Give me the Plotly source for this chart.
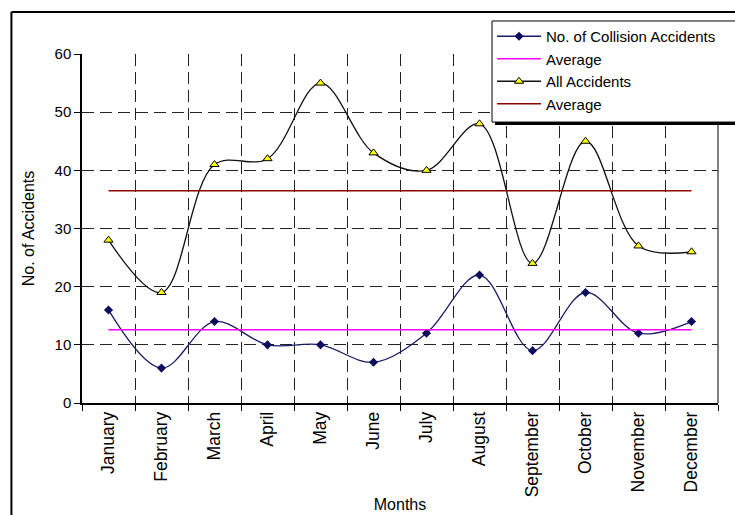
import plotly.graph_objects as go

months = ["January", "February", "March", "April", "May", "June", "July",
          "August", "September", "October", "November", "December"]
collision = [16, 6, 14, 10, 10, 7, 12, 22, 9, 19, 12, 14]
all_acc = [28, 19, 41, 42, 55, 43, 40, 48, 24, 45, 27, 26]
y_ticks = [0, 10, 20, 30, 40, 50, 60]

avg_collision = [sum(collision) / len(collision)] * len(months)
avg_all = [sum(all_acc) / len(all_acc)] * len(months)

FONT = "Liberation Sans, Arial, sans-serif"

fig = go.Figure()
fig.add_trace(go.Scatter(
    x=months, y=collision, name="No. of Collision Accidents",
    mode="lines+markers", line=dict(color="#1b1b6b", width=1.3, shape="spline", smoothing=1.0),
    marker=dict(symbol="diamond", size=7, color="#0d0d5e")))
fig.add_trace(go.Scatter(
    x=months, y=avg_collision, name="Average", mode="lines",
    line=dict(color="#ff00ff", width=1.5)))
fig.add_trace(go.Scatter(
    x=months, y=all_acc, name="All Accidents",
    mode="lines+markers", line=dict(color="#111111", width=1.3, shape="spline", smoothing=1.0),
    marker=dict(symbol="triangle-up", size=8, color="#ffff00", line=dict(color="#000000", width=1))))
fig.add_trace(go.Scatter(
    x=months, y=avg_all, name="Average", mode="lines",
    line=dict(color="#8b0000", width=1.5)))

# outer chart frame (left and top edges visible)
fig.add_shape(type="line", xref="paper", yref="paper", x0=-0.111, x1=1.2, y0=1.1203, y1=1.1203,
              line=dict(color="black", width=2))
fig.add_shape(type="line", xref="paper", yref="paper", x0=-0.111, x1=-0.111, y0=1.1203, y1=-0.5,
              line=dict(color="black", width=2))
# right border of plot area
fig.add_shape(type="line", xref="paper", yref="paper", x0=1, x1=1, y0=0, y1=1,
              line=dict(color="#555555", width=1.5))
# legend shadow (bottom edge) and box continuing past the right edge
fig.add_shape(type="rect", xref="paper", yref="paper", x0=0.6494, x1=1.2, y0=0.7966, y1=1.08,
              line=dict(width=0), fillcolor="black")
fig.add_shape(type="rect", xref="paper", yref="paper", x0=0.6447, x1=1.2, y0=0.805, y1=1.0946,
              line=dict(width=1, color="black"), fillcolor="white")

fig.update_layout(
    width=735, height=515,
    margin=dict(l=82, r=17, t=54, b=112, autoexpand=False),
    paper_bgcolor="white", plot_bgcolor="white",
    font=dict(family=FONT, size=14, color="black"),
    showlegend=True,
    legend=dict(x=0.6447, y=1.0974, xanchor="left", yanchor="top",
                bgcolor="rgba(0,0,0,0)", borderwidth=0,
                font=dict(family=FONT, size=15, color="black"),
                tracegroupgap=0, itemwidth=44),
    xaxis=dict(
        type="category", range=[-0.5, 11.5], tickson="boundaries",
        tickangle=-90, tickfont=dict(size=17.5), ticks="outside", ticklen=6, tickcolor="black",
        showline=True, linecolor="black", linewidth=1.5,
        showgrid=True, gridcolor="#222222", gridwidth=1, griddash="12px,6px",
        title=dict(text="Months", font=dict(size=16), standoff=2),
        zeroline=False, automargin=False),
    yaxis=dict(
        range=[0, 60], tickvals=y_ticks, ticks="outside", ticklen=6, tickcolor="black",
        tickfont=dict(size=15),
        showline=True, linecolor="black", linewidth=1.5,
        showgrid=True, gridcolor="#222222", gridwidth=1, griddash="12px,6px",
        title=dict(text="No. of Accidents", font=dict(size=16), standoff=16),
        zeroline=False, automargin=False),
)

fig.write_html("out.html", config={"displayModeBar": False},
               post_script="document.body.style.margin='0';")
